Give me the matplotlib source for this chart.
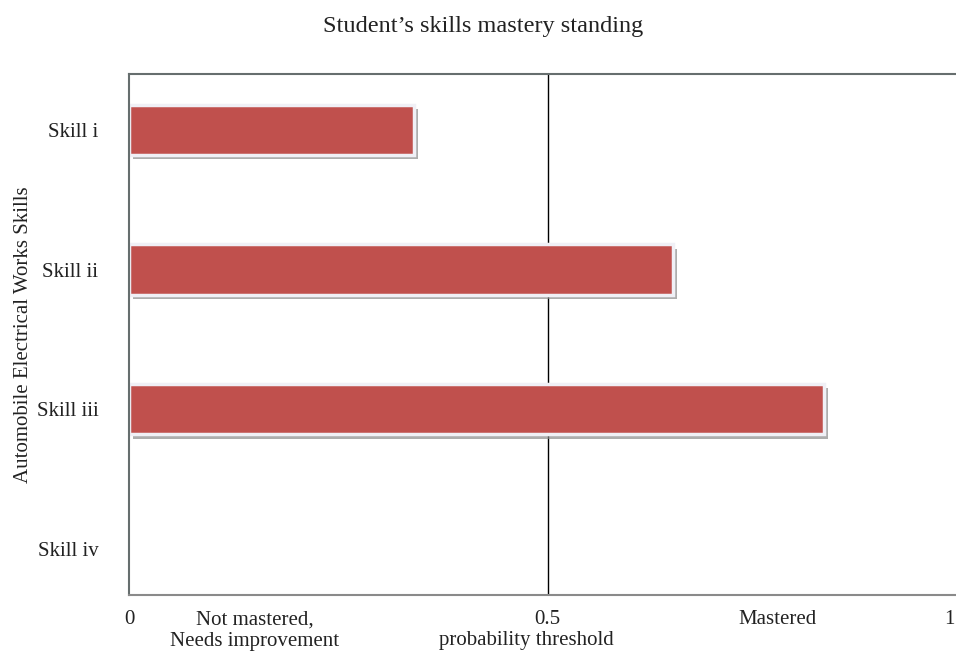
import matplotlib.pyplot as plt
import matplotlib.patheffects as pe
import matplotlib.transforms as mtransforms

# datos del grafico
habilidades = ['Skill i', 'Skill ii', 'Skill iii', 'Skill iv']
probabilidad = [0.34, 0.65, 0.83, 0.0]
umbral = 0.5
ticks_x = [0, 0.5, 1]
etiquetas_x = ['0', '0.5', '1']

plt.rcParams['font.family'] = ['Liberation Serif', 'DejaVu Serif']
tam = 15
gris = '#222222'

fig = plt.figure(figsize=(9.56, 6.52), dpi=100)
ax = fig.add_axes([129 / 956, 1 - 595 / 652, (966 - 129) / 956, (595 - 74) / 652])

pos = list(range(len(habilidades)))
barras = ax.barh(pos, probabilidad, height=0.36, color='#C0504D', edgecolor='#F0F0F6', linewidth=2.5,
                 path_effects=[pe.SimplePatchShadow(offset=(3, -3), shadow_rgbFace='#8a8a8a', alpha=0.7), pe.Normal()],
                 zorder=2)
for b, v in zip(barras, probabilidad):
    if v == 0:
        b.set_visible(False)  # barra vacia, no se dibuja el borde

ax.axvline(umbral, color='black', lw=1, zorder=1)  # linea del umbral detras de las barras

ax.set_xlim(0, 1)
ax.set_ylim(3.33, -0.40)
ax.set_yticks(pos)
ax.set_yticklabels(habilidades, fontsize=tam, color=gris)
ax.set_xticks(ticks_x)
ax.set_xticklabels(etiquetas_x, fontsize=tam, color=gris)
ax.tick_params(length=0)
ax.tick_params(axis='y', pad=22)
ax.tick_params(axis='x', pad=11)
# el "1" queda al borde de la figura
lbl = ax.get_xticklabels()[-1]
lbl.set_transform(lbl.get_transform() + mtransforms.ScaledTranslation(-0.17, 0, fig.dpi_scale_trans))

for s in ['top', 'left']:
    ax.spines[s].set_color('#666e6e')
    ax.spines[s].set_linewidth(1.5)
ax.spines['bottom'].set_color('#8a8a8a')
ax.spines['bottom'].set_linewidth(1.5)
ax.spines['right'].set_visible(False)

tr = mtransforms.blended_transform_factory(ax.transData, ax.transAxes)
ax.text(0.15, -0.029, 'Not mastered,\nNeeds improvement', transform=tr, ha='center', va='top',
        fontsize=tam, color=gris, linespacing=1.18)
ax.text(0.475, -0.069, 'probability threshold', transform=tr, ha='center', va='top', fontsize=tam, color=gris)
ax.text(0.775, -0.029, 'Mastered', transform=tr, ha='center', va='top', fontsize=tam, color=gris)

ax.set_ylabel('Automobile Electrical Works Skills', fontsize=tam, color=gris)
ax.yaxis.set_label_coords(-96 / 837, 0.5)

fig.suptitle('Student\u2019s skills mastery standing', x=0.505, y=0.975, fontsize=17.5, color=gris)

fig.savefig('out.png', dpi=100)
